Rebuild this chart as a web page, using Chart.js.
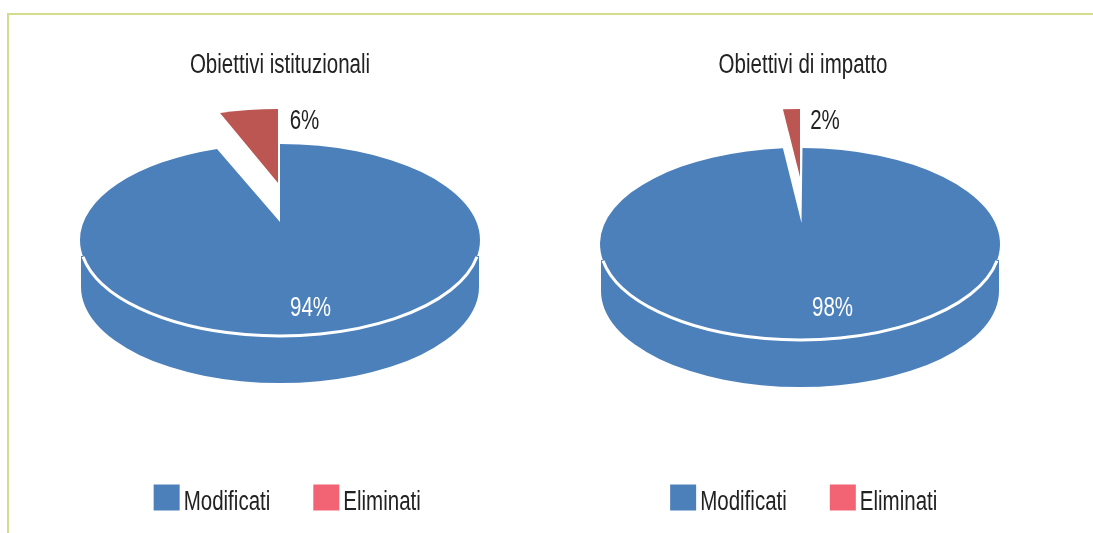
<!DOCTYPE html>
<html><head><meta charset="utf-8">
<script src="https://cdn.jsdelivr.net/npm/chart.js@4"></script>
<style>
html,body{margin:0;padding:0;background:#fff;width:1093px;height:533px;overflow:hidden}
#frame{position:absolute;left:7px;top:13px;width:1086px;height:520px;border-top:2px solid #d5dc8c;border-left:2px solid #d5dc8c;box-sizing:border-box}
.c{position:absolute;top:0;width:520px;height:533px}
</style></head><body>
<div id="frame"></div>
<div class="c" style="left:20px"><canvas id="a"></canvas></div>
<div class="c" style="left:540px"><canvas id="b"></canvas></div>
<script>
const categories = ["Modificati","Eliminati"];
const titles = ["Obiettivi istituzionali","Obiettivi di impatto"];
const valuesIstituzionali = [94,6];
const valuesImpatto = [98,2];
const sliceColors = ["#4c80bb","#bb5653"];
const legendColors = ["#4c80bb","#f26374"];
const FONT = "'Liberation Sans',sans-serif";
const NARROW = 0.76, FS = 27, SQUASH = 0.48, DEPTH = 47;

const pie3d = {
  id:'pie3d',
  beforeInit(chart){
    // condensed lettering: narrow every text the library draws or measures
    const c = chart.ctx, ft = c.fillText.bind(c), mt = c.measureText.bind(c);
    c.fillText = (t,x,y)=>{
      const isLegend = categories.includes(t);
      c.save();
      c.translate(x - (isLegend ? 9.5 : 0), y + (isLegend ? 5 : 0));
      c.scale(NARROW,1);
      ft(t,0,0);
      c.restore();
    };
    c.measureText = t=>{ const m = mt(t); return {width:m.width*NARROW}; };
  },
  afterLayout(chart){
    const o = chart.config.options.geo;
    const l = chart.legend, t = chart.titleBlock;
    l.left += o.legendDx; l.right += o.legendDx; l.top += o.legendDy; l.bottom += o.legendDy;
    t.left += o.titleDx; t.right += o.titleDx; t.top += o.titleDy; t.bottom += o.titleDy;
  },
  beforeDatasetsDraw(chart){
    const ctx = chart.ctx, arcs = chart.getDatasetMeta(0).data, o = chart.config.options.geo;
    const a0 = arcs[0], a1 = arcs[1];
    const cx = a0.x, cy = o.cy, rx = a0.outerRadius, ry = rx*SQUASH;
    const sweep = a1.endAngle - a1.startAngle, top = a1.endAngle;
    // extruded side
    ctx.fillStyle = sliceColors[0];
    ctx.beginPath();
    ctx.moveTo(cx-rx+1, cy+16);
    ctx.lineTo(cx+rx-1, cy+16);
    ctx.lineTo(cx+rx-1, cy+DEPTH);
    ctx.ellipse(cx,cy+DEPTH,rx-1,ry,0,0,Math.PI);
    ctx.closePath(); ctx.fill();
    // top face of the large slice, with the notch
    ctx.beginPath();
    ctx.moveTo(cx+o.apexDx,o.apexY);
    ctx.ellipse(cx,cy,rx,ry,0,a0.startAngle+o.startNudge,top-sweep*o.notchScale);
    ctx.closePath(); ctx.fill();
    // exploded small slice
    ctx.fillStyle = sliceColors[1];
    ctx.beginPath();
    ctx.moveTo(cx+o.redDx,o.redTipY);
    ctx.ellipse(cx+o.redDx,cy+o.redDy,rx,ry,0,top-sweep*o.redScale,top);
    ctx.closePath(); ctx.fill();
    // white rim along the front edge
    ctx.strokeStyle='#fff'; ctx.lineWidth=3;
    ctx.beginPath();
    ctx.ellipse(cx,cy,rx,ry,0,Math.PI*10/180,Math.PI*170/180);
    ctx.stroke();
    return false;
  },
  afterDraw(chart){
    const ctx=chart.ctx,o=chart.config.options.geo,m=chart.getDatasetMeta(0).data[0];
    const vals=chart.data.datasets[0].data;
    ctx.save();
    ctx.textBaseline='middle';ctx.textAlign='center';
    ctx.font=FS+"px "+FONT;
    ctx.fillStyle='#fff';
    ctx.fillText(vals[0]+'%',m.x+o.lab0[0],o.lab0[1]);
    ctx.fillStyle='#222';
    ctx.fillText(vals[1]+'%',m.x+o.lab1[0],o.lab1[1]);
    ctx.restore();
  }
};

function make(id,vals,title,geo){
  new Chart(document.getElementById(id),{
    type:'pie',
    data:{labels:categories,datasets:[{data:vals,backgroundColor:legendColors,borderWidth:0}]},
    plugins:[pie3d],
    options:{
      geo,
      radius:200,
      responsive:true,maintainAspectRatio:false,animation:false,
      rotation:0,
      plugins:{
        tooltip:{enabled:false},
        title:{display:true,text:title,color:'#222',font:{family:FONT,size:FS,weight:'normal'},padding:{top:46,bottom:0}},
        legend:{display:true,position:'bottom',
          labels:{color:'#222',font:{family:FONT,size:FS},boxWidth:26,boxHeight:26,padding:33.5}}
      }
    }
  });
}
make('a',valuesIstituzionali,titles[0],{cy:240,apexDx:0,apexY:222,startNudge:0,notchScale:0.85,redScale:0.78,redDx:-2,redDy:-35,redTipY:183,
  legendDx:12,legendDy:-12,titleDx:0,titleDy:3,lab0:[30.5,309],lab1:[24.5,122]});
make('b',valuesImpatto,titles[1],{cy:244,apexDx:1.5,apexY:223,startNudge:0.0125,notchScale:0.68,redDx:0,redScale:0.68,redDy:-39,redTipY:177,
  legendDx:8.5,legendDy:-12,titleDx:3,titleDy:3,lab0:[32.5,309],lab1:[25,122]});
</script>
</body></html>
